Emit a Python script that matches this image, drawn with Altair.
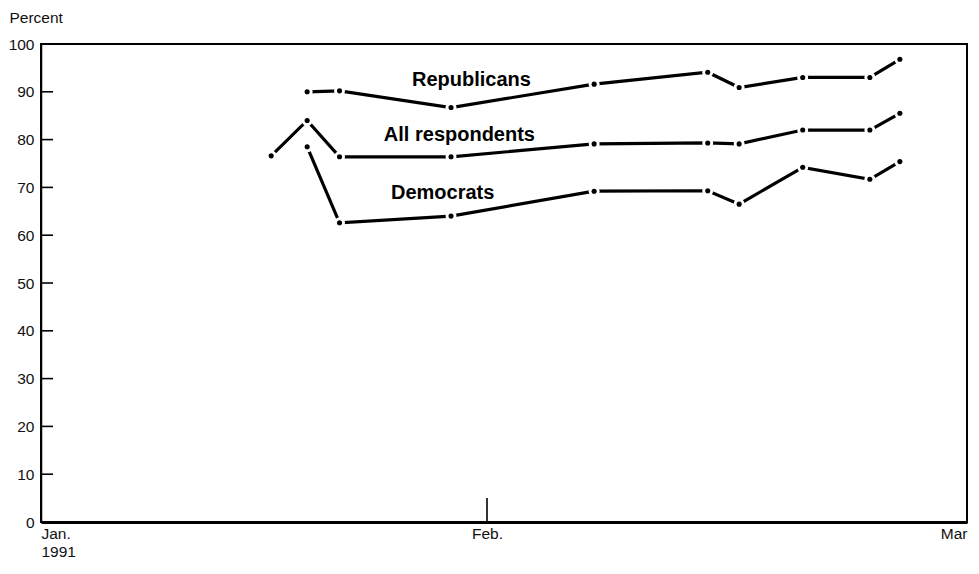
import altair as alt
import pandas as pd

# ---- data ----
all_dates = ["1991-01-17T00:00Z", "1991-01-19T12:00Z", "1991-01-21T18:00Z", "1991-01-29T12:00Z",
             "1991-02-07T06:00Z", "1991-02-13T21:00Z", "1991-02-15T17:00Z", "1991-02-19T10:00Z",
             "1991-02-23T08:00Z", "1991-02-25T02:00Z"]
all_values = [76.6, 84.0, 76.4, 76.4, 79.1, 79.3, 79.1, 82.0, 82.0, 85.5]

rep_dates = ["1991-01-19T12:00Z", "1991-01-21T18:00Z", "1991-01-29T12:00Z", "1991-02-07T06:00Z",
             "1991-02-13T21:00Z", "1991-02-15T17:00Z", "1991-02-19T10:00Z", "1991-02-23T08:00Z",
             "1991-02-25T02:00Z"]
rep_values = [90.0, 90.2, 86.7, 91.6, 94.1, 90.9, 93.0, 93.0, 96.8]

dem_dates = ["1991-01-19T12:00Z", "1991-01-21T18:00Z", "1991-01-29T12:00Z", "1991-02-07T06:00Z",
             "1991-02-13T21:00Z", "1991-02-15T17:00Z", "1991-02-19T10:00Z", "1991-02-23T08:00Z",
             "1991-02-25T02:00Z"]
dem_values = [78.5, 62.6, 64.0, 69.2, 69.3, 66.5, 74.2, 71.7, 75.4]

label_texts = ["Republicans", "All respondents", "Democrats"]
label_dates = ["1991-01-30T22:00Z", "1991-01-30T02:00Z", "1991-01-28T22:00Z"]
label_values = [92.5, 81.0, 68.8]

y_ticks = [0, 10, 20, 30, 40, 50, 60, 70, 80, 90, 100]
x_ticks = ["1991-01-01T00:00Z", "1991-02-01T00:00Z", "1991-03-01T00:00Z"]

rows = []
for name, ds, vs in [("All respondents", all_dates, all_values),
                     ("Republicans", rep_dates, rep_values),
                     ("Democrats", dem_dates, dem_values)]:
    for d, v in zip(ds, vs):
        rows.append({"series": name, "date": d, "value": v})
df = pd.DataFrame(rows)
labels_df = pd.DataFrame({"text": label_texts, "date": label_dates, "value": label_values})
yt_df = pd.DataFrame({"value": y_ticks})
xt_df = pd.DataFrame({"date": x_ticks})

W, H = 926, 478
TICK_FONT = "Liberation Sans"
TICK_SIZE = 15.5

# month position: 0 = Jan 1, 1 = Feb 1, 2 = Mar 1 (fraction of month elapsed)
POS_EXPR = ("time(toDate(datum.date)) < utc(1991,1,1) ? "
            "(time(toDate(datum.date)) - utc(1991,0,1)) / (31*864e5) : "
            "1 + (time(toDate(datum.date)) - utc(1991,1,1)) / (28*864e5)")


def with_pos(ch):
    return ch.transform_calculate(pos=POS_EXPR)


xscale = alt.Scale(type="linear", domain=[0, 1, 2], range=[0, 446, W], nice=False, zero=False)
yscale = alt.Scale(domain=[0, 100], nice=False, zero=True)

x_axis = alt.Axis(
    values=[0, 1, 2],
    labelExpr="datum.value==0 ? ['Jan.', '1991'] : (datum.value==1 ? 'Feb.' : 'Mar')",
    labelAlign={"condition": [{"test": "datum.value==0", "value": "left"},
                              {"test": "datum.value==2", "value": "right"}], "value": "center"},
    labelBaseline="top",
    labelLineHeight=18,
    labelPadding=4,
    labelFont=TICK_FONT, labelFontSize=TICK_SIZE, labelColor="#111",
    tickSize=0, grid=False, title=None,
    domainColor="black", domainWidth=3, labelOverlap=False, labelFlush=False,
)
y_axis = alt.Axis(
    values=y_ticks, tickSize=0, grid=False,
    labelFont=TICK_FONT, labelFontSize=TICK_SIZE, labelColor="#111", labelPadding=7,
    domainColor="black", domainWidth=1.5,
    title="Percent", titleAngle=0, titleAlign="left", titleBaseline="alphabetic",
    titleX=-32, titleY=-22, titleFont=TICK_FONT, titleFontSize=TICK_SIZE,
    titleFontWeight="normal", titleColor="#111",
)

x_enc = alt.X("pos:Q", scale=xscale, axis=x_axis)
y_enc = alt.Y("value:Q", scale=yscale, axis=y_axis)

# plot frame (top and right edges of the reference box)
frame = alt.Chart(yt_df).mark_rect(fill=None, stroke="black", strokeWidth=2).encode(
    x=alt.value(0), x2=alt.value(W), y=alt.value(0), y2=alt.value(H))

base = with_pos(alt.Chart(df))
lines = base.mark_line(color="black", strokeWidth=3.2).encode(
    x=x_enc, y=y_enc, detail="series:N")
halo = base.mark_point(filled=True, color="white", opacity=1, size=120).encode(
    x="pos:Q", y="value:Q", detail="series:N")
dots = base.mark_point(filled=True, color="black", opacity=1, size=26).encode(
    x="pos:Q", y="value:Q", detail="series:N")

y_tick_marks = alt.Chart(yt_df).mark_rule(color="black", strokeWidth=1.6, opacity=1).encode(
    y="value:Q", x=alt.value(0), x2=alt.value(12))
x_tick_marks = with_pos(alt.Chart(xt_df)).mark_rule(color="black", strokeWidth=1.6, opacity=1).encode(
    x="pos:Q", y=alt.value(H), y2=alt.value(H - 24))

texts = with_pos(alt.Chart(labels_df)).mark_text(
    font="Liberation Sans", fontWeight="bold", fontSize=20, color="black",
    align="center", baseline="middle").encode(
    x="pos:Q", y="value:Q", text="text:N")

chart = alt.layer(lines, halo, dots, texts, frame, y_tick_marks, x_tick_marks).properties(
    width=W, height=H,
    autosize=alt.AutoSizeParams(type="none"),
    padding={"left": 33, "top": 36, "right": 4, "bottom": 40},
).configure(background="white")

chart.save("out.html", embed_options={"renderer": "svg", "actions": False})
